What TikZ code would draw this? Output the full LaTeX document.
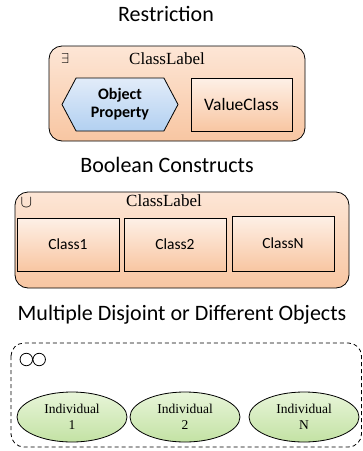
\documentclass[tikz,border=0pt]{standalone}
\usepackage{fontspec}
\setmainfont{Liberation Serif}
\newfontfamily\calfont{Carlito}
\usetikzlibrary{shapes.geometric,shapes.symbols}

\definecolor{peachtop}{HTML}{FDE6D6}
\definecolor{peachbot}{HTML}{F8C6A2}
\definecolor{bluetop}{HTML}{E2ECF9}
\definecolor{bluebot}{HTML}{B2D0F1}
\definecolor{greentop}{HTML}{E8F5D9}
\definecolor{greenbot}{HTML}{C3E2A4}

\tikzset{
  heading/.style={font=\calfont\fontsize{22}{24}\selectfont},
  outerbox/.style={draw, line width=0.8pt, rounded corners=13pt, top color=peachtop, bottom color=peachbot},
  classbox/.style={draw, line width=0.8pt, top color=peachtop!60!white, bottom color=peachbot, font=\calfont\fontsize{15.5}{17}\selectfont},
  propbox/.style={draw, line width=0.8pt, signal, signal to=east and west, signal pointer angle=124, top color=bluetop, bottom color=bluebot, font=\calfont\bfseries\fontsize{16}{18}\selectfont, align=center, inner sep=0pt},
  indiv/.style={draw, line width=0.8pt, ellipse, minimum width=110pt, minimum height=50pt, inner sep=0pt, top color=greentop, bottom color=greenbot, font=\fontsize{13.5}{16}\selectfont, align=center},
  boxlabel/.style={font=\fontsize{17}{19}\selectfont},
  ring/.style={draw, circle, line width=0.8pt, minimum size=12.5pt, inner sep=0pt}
}

\begin{document}
\begin{tikzpicture}[x=1pt,y=-1pt]
\useasboundingbox (0,0) rectangle (363,451);

% restriction
\node[heading] (restrtitle) at (166,14) {Restriction};
\node[outerbox, minimum width=256pt, minimum height=95pt] (restrbox) at (177,93.5) {};
\node[font=\fontsize{14}{16}\selectfont] (exists) at (65,58) {$\exists$};
\node[boxlabel] (restrlabel) at (167,59) {ClassLabel};
\node[propbox, minimum width=116pt, minimum height=53pt] (objprop) at (120,104.5) {Object\\Property};
\node[classbox, minimum width=101pt, minimum height=53pt, font=\calfont\fontsize{17.5}{19}\selectfont] (valclass) at (241.5,104.5) {ValueClass};

% boolean constructs
\node[heading] (booltitle) at (167,165) {Boolean Constructs};
\node[outerbox, minimum width=334pt, minimum height=96pt] (boolbox) at (182,240) {};
\node[font=\fontsize{17}{19}\selectfont] (union) at (26.5,203) {$\cup$};
\node[boxlabel] (boollabel) at (164,201) {ClassLabel};
\node[classbox, minimum width=102pt, minimum height=53pt] (classa) at (68,244.5) {Class1};
\node[classbox, minimum width=102pt, minimum height=53pt] (classb) at (175,244.5) {Class2};
\node[classbox, minimum width=102pt, minimum height=55pt] (classn) at (283,243.5) {ClassN};

% disjoint / different
\node[heading] (disjtitle) at (182,315) {Multiple Disjoint or Different Objects};
\draw[line width=0.8pt, dashed, dash pattern=on 4pt off 3pt, rounded corners=13pt] (11,343) rectangle (361.5,447);
\node[ring] (ringa) at (26.3,359.5) {};
\node[ring] (ringb) at (39.2,359.5) {};
\node[indiv] (inda) at (72,417) {Individual\\1};
\node[indiv] (indb) at (185,417) {Individual\\2};
\node[indiv] (indn) at (304,417) {Individual\\N};
\end{tikzpicture}
\end{document}
